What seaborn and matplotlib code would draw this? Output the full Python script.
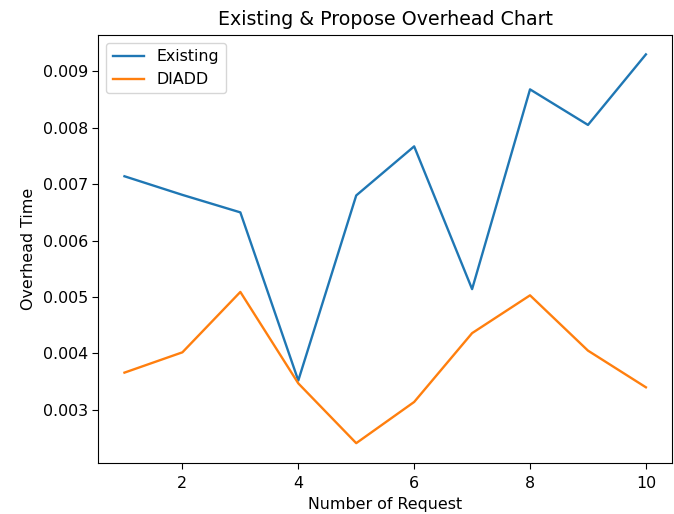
"""
Existing vs DIADD overhead time per request
"""

import pandas as pd
import matplotlib
matplotlib.use("Agg")
import matplotlib.pyplot as plt
import seaborn as sns

# === Data ===
requests = [1, 2, 3, 4, 5, 6, 7, 8, 9, 10]
existing = [0.00714, 0.00681, 0.00650, 0.00352, 0.00680, 0.00767, 0.00514, 0.00868, 0.00805, 0.00930]
diadd = [0.00366, 0.00402, 0.00509, 0.00347, 0.00241, 0.00314, 0.00436, 0.00503, 0.00405, 0.00340]
series_names = ["Existing", "DIADD"]
colors = ["#1f77b4", "#ff7f0e"]

df = pd.DataFrame({
    "Number of Request": requests * 2,
    "Overhead Time": existing + diadd,
    "Method": [series_names[0]] * len(requests) + [series_names[1]] * len(requests),
})

# === Plot ===
plt.rcParams["font.family"] = ["DejaVu Sans"]
fig, ax = plt.subplots(figsize=(6.74, 5.14), dpi=100)
fig.subplots_adjust(left=0.146, right=0.997, top=0.932, bottom=0.10)

sns.lineplot(data=df, x="Number of Request", y="Overhead Time", hue="Method",
             palette=dict(zip(series_names, colors)), linewidth=1.7, ax=ax)

ax.set_title("Existing & Propose Overhead Chart", fontsize=13.7, pad=7)
ax.set_xlabel("Number of Request", fontsize=11.4, labelpad=4)
ax.set_ylabel("Overhead Time", fontsize=11.4, labelpad=5)
ax.tick_params(labelsize=11.4, length=4)
ax.tick_params(axis="x", pad=6)
ax.legend(loc="upper left", fontsize=11.4, title=None)

plt.savefig("out.png")
plt.close()
